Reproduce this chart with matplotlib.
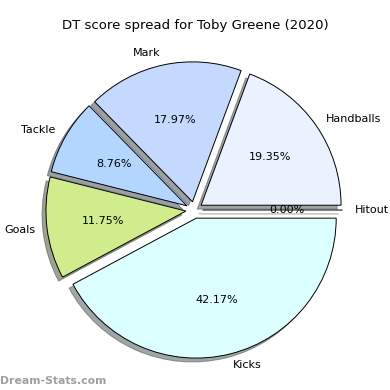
import matplotlib
matplotlib.use("Agg")
import matplotlib.pyplot as plt

# 데이터
labels = ["Handballs", "Mark", "Tackle", "Goals", "Kicks", "Hitout"]
values = [19.35, 17.97, 8.76, 11.75, 42.17, 0.00]
colors = ["#eaf1ff", "#c5d9ff", "#b3d6ff", "#d0ec8c", "#dcffff", "#f0e68c"]
explode = [0.06] * len(labels)

fig = plt.figure(figsize=(3.9, 3.9), dpi=100)
ax = fig.add_axes([0.028, 0.013, 0.94, 0.897])

ax.pie(values, labels=labels, colors=colors, explode=explode, shadow=True,
       startangle=0, counterclock=True, autopct="%1.2f%%", labeldistance=1.085,
       wedgeprops={"edgecolor": "black", "linewidth": 0.7},
       textprops={"fontsize": 8})
ax.set_aspect("equal")

fig.suptitle("DT score spread for Toby Greene (2020)", fontsize=9.5, y=0.95)
fig.text(0.0, 0.01, "Dream-Stats.com", fontsize=7.8, color="#a0a0a0",
         fontweight="bold", ha="left", va="bottom")

fig.savefig("out.png", dpi=100)
